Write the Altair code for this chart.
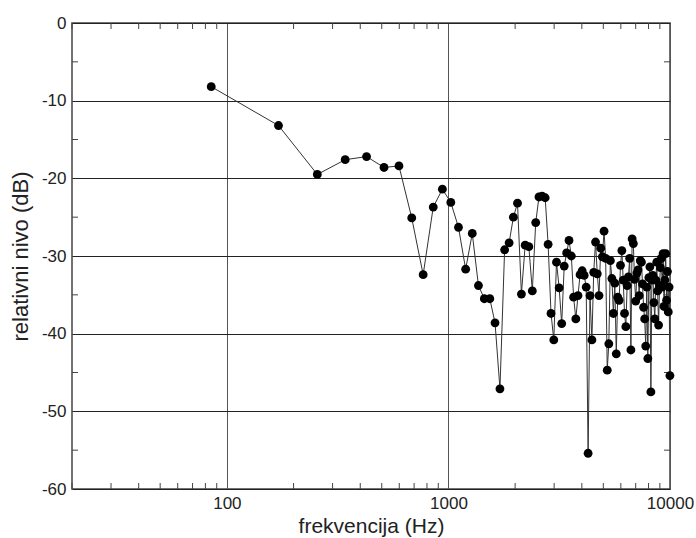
import altair as alt
import pandas as pd

# harmonic frequencies (Hz)
freq = [
    85, 171, 256, 342, 427, 512, 598, 683, 769, 854,
    939, 1025, 1110, 1196, 1281, 1366, 1452, 1537, 1623, 1708,
    1793, 1879, 1964, 2050, 2135, 2220, 2306, 2391, 2477, 2562,
    2647, 2733, 2818, 2904, 2989, 3074, 3160, 3245, 3331, 3416,
    3501, 3587, 3672, 3758, 3843, 3928, 4014, 4099, 4185, 4270,
    4355, 4441, 4526, 4612, 4697, 4782, 4868, 4953, 5039, 5124,
    5209, 5295, 5380, 5466, 5551, 5636, 5722, 5807, 5893, 5978,
    6063, 6149, 6234, 6320, 6405, 6490, 6576, 6661, 6747, 6832,
    6917, 7003, 7088, 7174, 7259, 7344, 7430, 7515, 7601, 7686,
    7771, 7857, 7942, 8028, 8113, 8198, 8284, 8369, 8455, 8540,
    8625, 8711, 8796, 8882, 8967, 9052, 9138, 9223, 9309, 9394,
    9479, 9565, 9650, 9736, 9821, 9906, 9992,
]

# relative level (dB)
level = [
    -8.2, -13.2, -19.5, -17.6, -17.2, -18.6, -18.4, -25.1, -32.4, -23.7,
    -21.4, -23.1, -26.3, -31.7, -27.1, -33.8, -35.5, -35.5, -38.6, -47.1,
    -29.2, -28.3, -25.0, -23.2, -34.9, -28.6, -28.8, -34.5, -25.7, -22.4,
    -22.3, -22.5, -28.5, -37.4, -40.8, -30.8, -34.1, -38.7, -31.3, -29.6,
    -28.0, -30.0, -35.3, -38.1, -35.1, -32.4, -31.9, -32.5, -34.0, -55.4,
    -35.1, -40.8, -32.1, -28.2, -32.3, -35.1, -29.0, -30.1, -26.8, -30.3,
    -44.7, -41.3, -30.6, -32.9, -37.4, -33.5, -42.6, -35.3, -35.7, -31.2,
    -29.3, -33.1, -37.4, -39.1, -33.8, -32.7, -30.3, -42.1, -27.8, -28.4,
    -33.0, -35.8, -32.2, -31.8, -35.1, -30.6, -30.8, -33.6, -36.6, -38.1,
    -41.6, -34.0, -43.2, -32.8, -31.4, -47.5, -33.1, -32.5, -36.0, -38.1,
    -33.1, -30.8, -34.5, -38.9, -33.8, -31.5, -30.3, -34.0, -29.7, -36.5,
    -33.1, -29.7, -35.7, -32.0, -37.2, -34.0, -45.4,
]

x_major = [100, 1000, 10000]
y_major = [-60, -50, -40, -30, -20, -10, 0]
x_minor = [20, 30, 40, 50, 60, 70, 80, 90,
           200, 300, 400, 500, 600, 700, 800, 900,
           2000, 3000, 4000, 5000, 6000, 7000, 8000, 9000]
y_minor = [-55, -45, -35, -25, -15, -5]

W, H = 598, 466
FONT = "Liberation Sans"
TXT = "#222222"

df = pd.DataFrame({"f": freq, "db": level})
xm = pd.DataFrame({"f": x_minor})
ym = pd.DataFrame({"db": y_minor})

xs = alt.Scale(type="log", domain=[20, 10000], nice=False)
ys = alt.Scale(domain=[-60, 0], nice=False, zero=False)

x_axis = alt.Axis(values=x_major, format="d", grid=True, gridColor="#555555", gridWidth=1,
                  ticks=False, domain=False, labelFlush=False, labelFontSize=17,
                  labelFont=FONT, labelColor=TXT, labelPadding=6,
                  title="frekvencija (Hz)", titleFont=FONT, titleFontSize=21,
                  titleFontWeight="normal", titleColor=TXT, titlePadding=4)
y_axis = alt.Axis(values=y_major, labelExpr="'' + datum.value", grid=True,
                  gridColor="#222222", gridWidth=1, ticks=False, domain=False,
                  labelFontSize=17, labelFont=FONT, labelColor=TXT, labelPadding=6,
                  title="relativni nivo (dB)", titleFont=FONT, titleFontSize=22,
                  titleFontWeight="normal", titleColor=TXT, titlePadding=9)

X = alt.X("f:Q", scale=xs, axis=x_axis)
Y = alt.Y("db:Q", scale=ys, axis=y_axis)

line = alt.Chart(df).mark_line(color="#333333", strokeWidth=1).encode(
    x=X, y=Y, order="f:Q")
pts = alt.Chart(df).mark_circle(color="black", size=78, opacity=1).encode(x=X, y=Y)

tick_col = "#444444"
bot = alt.Chart(xm).mark_rule(color=tick_col, strokeWidth=1).encode(
    x=X, y=alt.value(H), y2=alt.value(H - 6))
top = alt.Chart(xm).mark_rule(color=tick_col, strokeWidth=1).encode(
    x=X, y=alt.value(0), y2=alt.value(6))
left = alt.Chart(ym).mark_rule(color=tick_col, strokeWidth=1).encode(
    y=Y, x=alt.value(0), x2=alt.value(6))
right = alt.Chart(ym).mark_rule(color=tick_col, strokeWidth=1).encode(
    y=Y, x=alt.value(W), x2=alt.value(W - 6))

chart = alt.layer(line, bot, top, left, right, pts).properties(
    width=W, height=H,
    padding={"left": 72, "top": 23, "right": 26, "bottom": 49},
    autosize=alt.AutoSizeParams(type="none"),
    background="white",
).configure_view(stroke="#444444", strokeWidth=1.5)

chart.save("out.html", embed_options={"renderer": "svg", "actions": False})
